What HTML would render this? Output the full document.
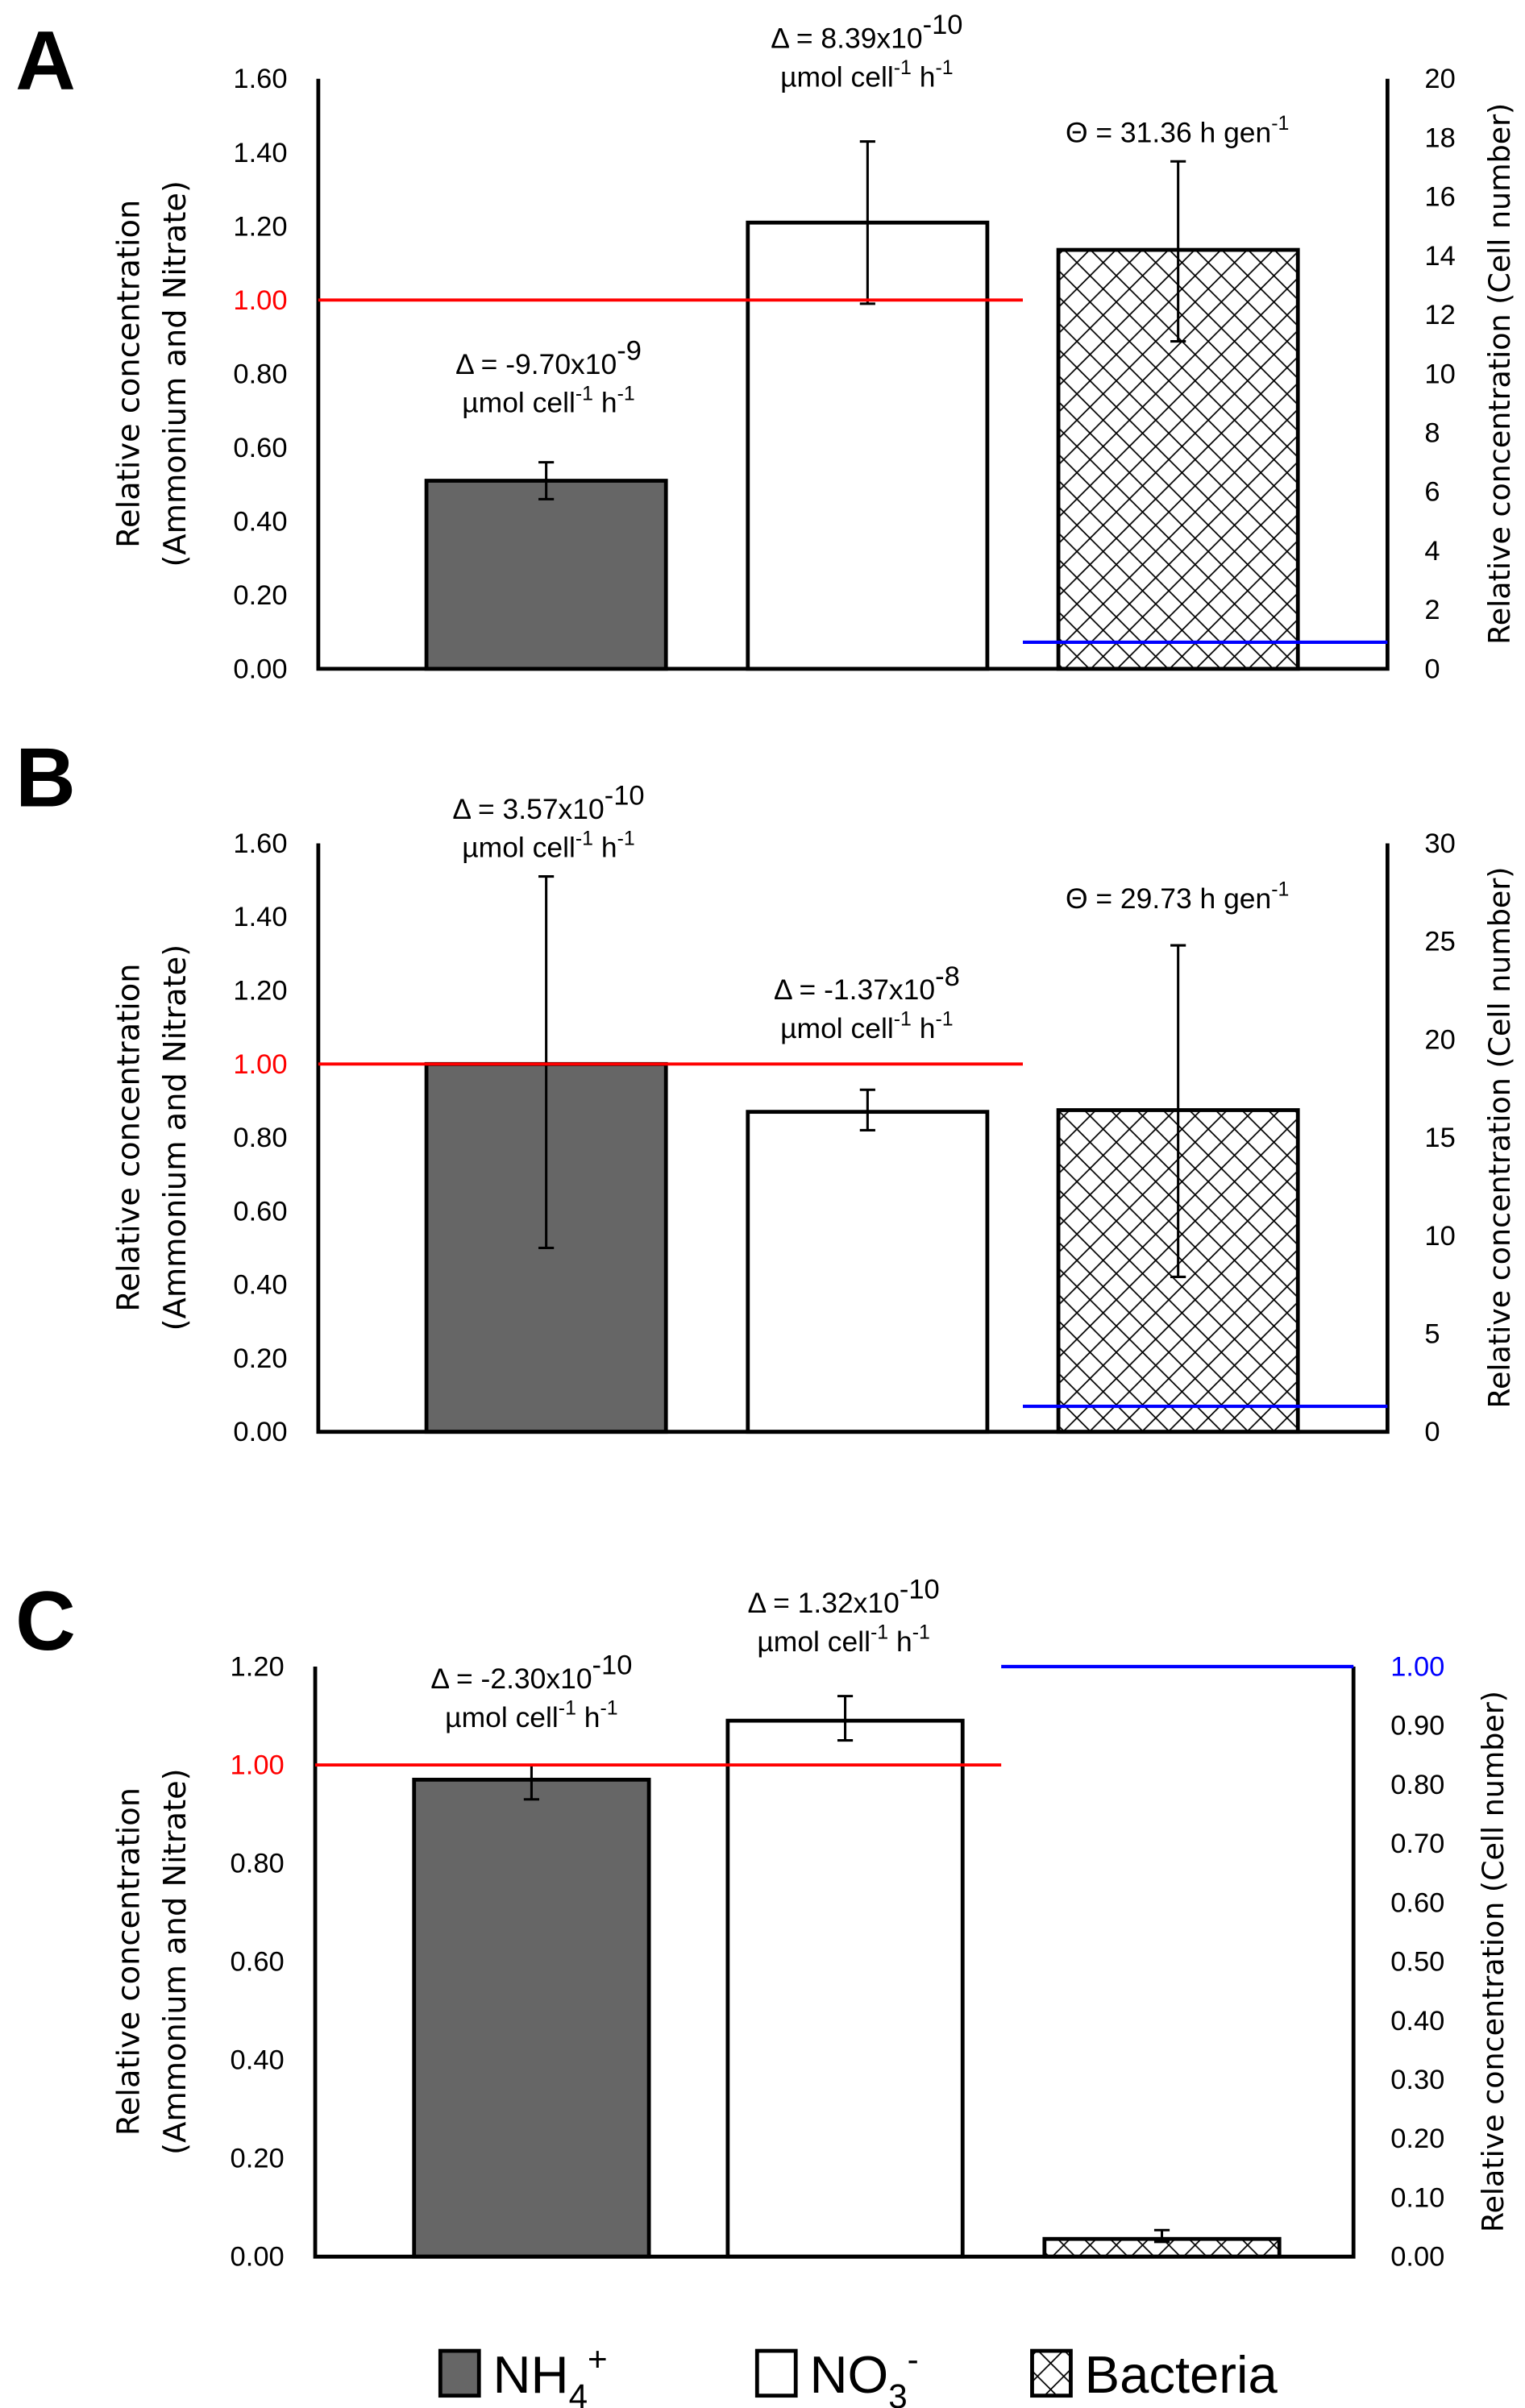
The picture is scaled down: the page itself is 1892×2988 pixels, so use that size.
<!DOCTYPE html>
<html><head><meta charset="utf-8">
<style>
html,body{margin:0;padding:0;background:#fff;}
svg{display:block;}
text{font-family:"Liberation Sans",sans-serif;}
.tick{font-size:18px;fill:#000;}
.ann{font-size:18.5px;fill:#000;}
.title{font-family:"DejaVu Sans",sans-serif;font-size:20px;fill:#000;}
.titleR{font-family:"DejaVu Sans",sans-serif;font-size:19px;fill:#000;}
.panel{font-family:"Liberation Sans",sans-serif;font-weight:bold;font-size:54px;}
</style></head>
<body>
<svg id="chart" width="1892" height="2988" viewBox="0 0 987 1559" preserveAspectRatio="none" xmlns="http://www.w3.org/2000/svg">
<defs>
<pattern id="hatch" patternUnits="userSpaceOnUse" width="17" height="17">
<path d="M0,0 L17,17 M17,0 L0,17" stroke="#000" stroke-width="0.9" fill="none"/>
</pattern>
</defs>
<g id="root"></g>
</svg>
<script>
const NS="http://www.w3.org/2000/svg";
// Panel A
const catsA=["NH4","NO3","Bacteria"];
const valsA=[0.51,1.21,14.2];
const errLoA=[0.46,0.99,11.1];
const errHiA=[0.56,1.43,17.2];
const blueA=0.9;
const ticksLA=["0.00","0.20","0.40","0.60","0.80","1.00","1.20","1.40","1.60"];
const ticksRA=["0","2","4","6","8","10","12","14","16","18","20"];
// Panel B
const valsB=[1.00,0.87,16.4];
const errLoB=[0.50,0.82,7.9];
const errHiB=[1.51,0.93,24.8];
const blueB=1.3;
const ticksLB=["0.00","0.20","0.40","0.60","0.80","1.00","1.20","1.40","1.60"];
const ticksRB=["0","5","10","15","20","25","30"];
// Panel C
const valsC=[0.97,1.09,0.03];
const errLoC=[0.93,1.05,0.025];
const errHiC=[1.00,1.14,0.045];
const blueC=1.00;
const ticksLC=["0.00","0.20","0.40","0.60","0.80","1.00","1.20"];
const ticksRC=["0.00","0.10","0.20","0.30","0.40","0.50","0.60","0.70","0.80","0.90","1.00"];

const root=document.getElementById('root');
function el(tag,attrs,parent){const e=document.createElementNS(NS,tag);for(const k in attrs)e.setAttribute(k,attrs[k]);(parent||root).appendChild(e);return e;}

function panel(cfg){
  const g=el('g',{});
  
  
  const {x0,x1,yb,yt,lMax,rMax}=cfg;
  const yL=v=>yb-(v/lMax)*(yb-yt);
  const yR=v=>yb-(v/rMax)*(yb-yt);
  const lbl=el('text',{x:cfg.lx,y:cfg.ly,class:'panel'},g);lbl.textContent=cfg.id;
  
  
  cfg.ticksL.forEach(t=>{const v=parseFloat(t);const tx=el('text',{x:x0-20,y:yL(v)+6,class:'tick','text-anchor':'end'},g);
    if(v===1)tx.setAttribute('style','fill:#f00');tx.textContent=t;
    
    });
  cfg.ticksR.forEach(t=>{const v=parseFloat(t);const tx=el('text',{x:x1+24,y:yR(v)+6,class:'tick'},g);
    if(cfg.blueTick&&v===1)tx.setAttribute('style','fill:#00f');tx.textContent=t;
    
    });
  const tl=el('text',{class:'title','text-anchor':'middle',transform:`translate(${cfg.tlx},${(yb+yt)/2}) rotate(-90)`},g);
  
  
  el('tspan',{x:0,dy:0},tl).textContent='Relative concentration';
  el('tspan',{x:0,dy:30},tl).textContent='(Ammonium and Nitrate)';
  const tr=el('text',{class:'titleR','text-anchor':'middle',transform:`translate(${cfg.trx},${(yb+yt)/2}) rotate(-90)`},g);
  
  
  tr.textContent='Relative concentration (Cell number)';
  const fills=['#666','#fff','url(#hatch)'];
  cfg.vals.forEach((v,i)=>{
    const sc=i===2?yR:yL;const bx=cfg.bx[i];const w=cfg.bw;
    const r=el('rect',{x:bx,y:sc(v),width:w,height:yb-sc(v),fill:fills[i],stroke:'#000','stroke-width':2.5},g);
    
    
    const cx=bx+w/2,lo=sc(cfg.lo[i]),hi=sc(cfg.hi[i]);
    const e=el('path',{d:`M${cx},${lo}V${hi}M${cx-5},${lo}H${cx+5}M${cx-5},${hi}H${cx+5}`,stroke:'#000','stroke-width':1.6,fill:'none'},g);
    
    
  });
  const ax=el('path',{d:`M${x0},${yt}V${yb}H${x1}V${yt}`,stroke:'#000','stroke-width':2.5,fill:'none'},g);
  
  
  const red=el('line',{x1:x0,x2:cfg.split,y1:yL(1),y2:yL(1),stroke:'#f00','stroke-width':2},g);
  
  
  const bl=el('line',{x1:cfg.split,x2:x1,y1:yR(cfg.blue),y2:yR(cfg.blue),stroke:'#00f','stroke-width':2.2},g);
  
  
  cfg.ann.forEach(a=>{
    const t=el('text',{x:a[0],y:a[1],class:'ann','text-anchor':'middle'},g);
    
    
    t.innerHTML=a[2];
    if(a[3]){const t2=el('text',{x:a[0],y:a[1]+25,class:'ann','text-anchor':'middle'},g);
      
      
      t2.innerHTML='µmol cell<tspan dy="-8" font-size="13">-1</tspan><tspan dy="8"> h</tspan><tspan dy="-8" font-size="13">-1</tspan>';}
  });
}
const sup=s=>`<tspan dy="-9" font-size="18">${s}</tspan>`;
const sups=s=>`<tspan dy="-8" font-size="13">${s}</tspan>`;
panel({id:'A',lx:10,ly:58,x0:206,x1:898,yb:433,yt:51,lMax:1.6,rMax:20,split:662,
 ticksL:ticksLA,ticksR:ticksRA,vals:valsA,lo:errLoA,hi:errHiA,blue:blueA,
 bx:[276,484,685],bw:155,tlx:90,trx:977,
 ann:[[355,242,'Δ = -9.70x10'+sup('-9'),1],[561,31,'Δ = 8.39x10'+sup('-10'),1],[762,92,'Θ = 31.36 h gen'+sups('-1'),0]]});
panel({id:'B',lx:10,ly:522,x0:206,x1:898,yb:927,yt:546,lMax:1.6,rMax:30,split:662,
 ticksL:ticksLB,ticksR:ticksRB,vals:valsB,lo:errLoB,hi:errHiB,blue:blueB,
 bx:[276,484,685],bw:155,tlx:90,trx:977,
 ann:[[355,530,'Δ = 3.57x10'+sup('-10'),1],[561,647,'Δ = -1.37x10'+sup('-8'),1],[762,588,'Θ = 29.73 h gen'+sups('-1'),0]]});
panel({id:'C',lx:10,ly:1068,x0:204,x1:876,yb:1461,yt:1079,lMax:1.2,rMax:1.0,split:648,blueTick:true,
 ticksL:ticksLC,ticksR:ticksRC,vals:valsC,lo:errLoC,hi:errHiC,blue:blueC,
 bx:[268,471,676],bw:152,tlx:90,trx:973,
 ann:[[344,1093,'Δ = -2.30x10'+sup('-10'),1],[546,1044,'Δ = 1.32x10'+sup('-10'),1]]});
const lg=el('g',{});


const items=[[285,'#666','NH<tspan dy="10" font-size="22">4</tspan><tspan dy="-24" font-size="22">+</tspan>'],[490,'#fff','NO<tspan dy="10" font-size="22">3</tspan><tspan dy="-24" font-size="22">-</tspan>'],[668,'url(#hatch)','Bacteria']];
items.forEach((it,i)=>{
  const r=el('rect',{x:it[0],y:1522,width:25,height:29,fill:it[1],stroke:'#000','stroke-width':2.5},lg);
  
  
  const t=el('text',{x:it[0]+34,y:1549,'font-size':34},lg);
  
  
  t.innerHTML=it[2];
});
</script>
</body></html>
